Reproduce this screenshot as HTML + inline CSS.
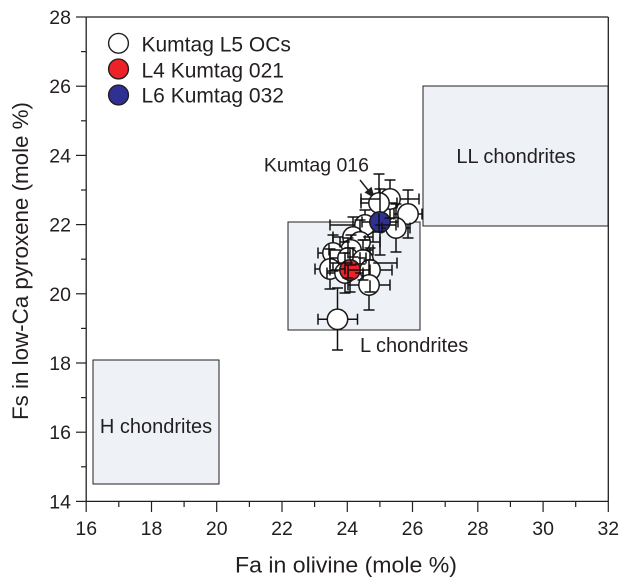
<!DOCTYPE html>
<html>
<head>
<meta charset="utf-8">
<style>
  html, body { margin:0; padding:0; background:#fff; }
  svg { display:block; }
  text { font-family: "Liberation Sans", Arial, sans-serif; fill:#231f20; }
</style>
</head>
<body>
<svg width="624" height="581" viewBox="0 0 624 581" xmlns="http://www.w3.org/2000/svg">
  <rect x="0" y="0" width="624" height="581" fill="#fff"/>

  <!-- classification boxes -->
  <rect x="93" y="360" width="126" height="124" fill="#eef2f7" stroke="#231f20" stroke-width="1"/>
  <rect x="288" y="222" width="132" height="108" fill="#eef2f7" stroke="#231f20" stroke-width="1"/>
  <rect x="423" y="86" width="185" height="140" fill="#eef2f7" stroke="#231f20" stroke-width="1"/>

  <text x="156" y="433" font-size="20" text-anchor="middle">H chondrites</text>
  <text x="360" y="352" font-size="20">L chondrites</text>
  <text x="516" y="163" font-size="20" text-anchor="middle">LL chondrites</text>

  <!-- frame -->
  <g stroke="#231f20" stroke-width="1.3" fill="none">
    <line x1="86.2" y1="17" x2="86.2" y2="501.4"/>
    <line x1="86.2" y1="501.4" x2="608.3" y2="501.4"/>
    <line x1="86.2" y1="17" x2="608.3" y2="17"/>
    <line x1="608.3" y1="17" x2="608.3" y2="501.4"/>
  </g>

  <!-- y ticks -->
  <g stroke="#231f20" stroke-width="1.2">
    <line x1="76" y1="17" x2="86.2" y2="17"/>
    <line x1="81" y1="51.6" x2="86.2" y2="51.6"/>
    <line x1="76" y1="86.2" x2="86.2" y2="86.2"/>
    <line x1="81" y1="120.8" x2="86.2" y2="120.8"/>
    <line x1="76" y1="155.4" x2="86.2" y2="155.4"/>
    <line x1="81" y1="190" x2="86.2" y2="190"/>
    <line x1="76" y1="224.6" x2="86.2" y2="224.6"/>
    <line x1="81" y1="259.2" x2="86.2" y2="259.2"/>
    <line x1="76" y1="293.8" x2="86.2" y2="293.8"/>
    <line x1="81" y1="328.4" x2="86.2" y2="328.4"/>
    <line x1="76" y1="363" x2="86.2" y2="363"/>
    <line x1="81" y1="397.6" x2="86.2" y2="397.6"/>
    <line x1="76" y1="432.2" x2="86.2" y2="432.2"/>
    <line x1="81" y1="466.8" x2="86.2" y2="466.8"/>
    <line x1="76" y1="501.4" x2="86.2" y2="501.4"/>
  </g>
  <g font-size="19.5" text-anchor="end">
    <text x="71" y="24">28</text>
    <text x="71" y="93.2">26</text>
    <text x="71" y="162.4">24</text>
    <text x="71" y="231.6">22</text>
    <text x="71" y="300.8">20</text>
    <text x="71" y="370">18</text>
    <text x="71" y="439.2">16</text>
    <text x="71" y="508.4">14</text>
  </g>

  <!-- x ticks -->
  <g stroke="#231f20" stroke-width="1.2">
    <line x1="86.2" y1="501.4" x2="86.2" y2="512"/>
    <line x1="118.8" y1="501.4" x2="118.8" y2="507"/>
    <line x1="151.5" y1="501.4" x2="151.5" y2="512"/>
    <line x1="184.1" y1="501.4" x2="184.1" y2="507"/>
    <line x1="216.7" y1="501.4" x2="216.7" y2="512"/>
    <line x1="249.4" y1="501.4" x2="249.4" y2="507"/>
    <line x1="282" y1="501.4" x2="282" y2="512"/>
    <line x1="314.6" y1="501.4" x2="314.6" y2="507"/>
    <line x1="347.3" y1="501.4" x2="347.3" y2="512"/>
    <line x1="379.9" y1="501.4" x2="379.9" y2="507"/>
    <line x1="412.5" y1="501.4" x2="412.5" y2="512"/>
    <line x1="445.2" y1="501.4" x2="445.2" y2="507"/>
    <line x1="477.8" y1="501.4" x2="477.8" y2="512"/>
    <line x1="510.4" y1="501.4" x2="510.4" y2="507"/>
    <line x1="543.1" y1="501.4" x2="543.1" y2="512"/>
    <line x1="575.7" y1="501.4" x2="575.7" y2="507"/>
    <line x1="608.3" y1="501.4" x2="608.3" y2="512"/>
  </g>
  <g font-size="19.5" text-anchor="middle">
    <text x="86.2" y="535">16</text>
    <text x="151.5" y="535">18</text>
    <text x="216.7" y="535">20</text>
    <text x="282" y="535">22</text>
    <text x="347.3" y="535">24</text>
    <text x="412.5" y="535">26</text>
    <text x="477.8" y="535">28</text>
    <text x="543.1" y="535">30</text>
    <text x="608.3" y="535">32</text>
  </g>

  <!-- axis titles -->
  <text x="346" y="572.5" font-size="22.5" text-anchor="middle" textLength="222" lengthAdjust="spacingAndGlyphs">Fa in olivine (mole %)</text>
  <text transform="translate(28,261) rotate(-90)" x="0" y="0" font-size="22.5" text-anchor="middle" textLength="318" lengthAdjust="spacingAndGlyphs">Fs in low-Ca pyroxene (mole %)</text>

  <!-- legend -->
  <g stroke="#231f20" stroke-width="1.4">
    <circle cx="118.5" cy="43.3" r="9.9" fill="#fff"/>
    <circle cx="118.5" cy="69" r="9.9" fill="#ed2228"/>
    <circle cx="118.5" cy="95" r="9.9" fill="#2e3192"/>
  </g>
  <g font-size="21">
    <text x="141.5" y="51.7">Kumtag L5 OCs</text>
    <text x="141.5" y="77.3">L4 Kumtag 021</text>
    <text x="141.5" y="102.7">L6 Kumtag 032</text>
  </g>

  <!-- Kumtag 016 label + arrow -->
  <text x="369" y="171.7" font-size="19.5" text-anchor="end">Kumtag 016</text>
  <line x1="360" y1="180" x2="370" y2="192.5" stroke="#231f20" stroke-width="1.5"/>
  <polygon points="375,198.5 364.5,192.5 371.5,186.8" fill="#231f20"/>

  <!-- data circles -->
  <g stroke="#1a1a1a" stroke-width="1.5" fill="#fff">
    <circle cx="390" cy="199" r="10.2"/>
    <circle cx="408" cy="214" r="10.2"/>
    <circle cx="396" cy="228" r="10.2"/>
    <circle cx="379" cy="203" r="10.2"/>
    <circle cx="365" cy="225" r="10.2"/>
    <circle cx="353" cy="237" r="10.2"/>
    <circle cx="360" cy="242" r="10.2"/>
    <circle cx="351" cy="250" r="10.2"/>
    <circle cx="333" cy="253" r="10.2"/>
    <circle cx="348" cy="258" r="10.2"/>
    <circle cx="363" cy="260" r="10.2"/>
    <circle cx="330" cy="269" r="10.2"/>
    <circle cx="370" cy="270" r="10.2"/>
    <circle cx="345" cy="273" r="10.2"/>
    <circle cx="369" cy="285" r="10.2"/>
    <circle cx="337.5" cy="319.3" r="10.2"/>
    <circle cx="350" cy="270" r="10.2" fill="#ed2228"/>
    <circle cx="380" cy="222" r="10.2" fill="#2e3192"/>
  </g>

  <!-- error bars -->
  <g stroke="#111" stroke-width="1.5" fill="none">
    <path d="M368.8 203H361M361 197.5v11 M389.2 203H397M397 197.5v11 M379 192.8V174M373.5 174h11 M379 213.2V232M373.5 232h11"/>
    <path d="M379.8 199H361M361 193.5v11 M400.2 199H419M419 193.5v11 M390 188.8V180M384.5 180h11 M390 209.2V218M384.5 218h11"/>
    <path d="M397.8 214H394M394 208.5v11 M418.2 214H422M422 208.5v11 M408 203.8V190M402.5 190h11 M408 224.2V238M402.5 238h11"/>
    <path d="M385.8 228H382M382 222.5v11 M406.2 228H410M410 222.5v11 M396 217.8V204M390.5 204h11 M396 238.2V252M390.5 252h11"/>
    <path d="M354.8 225H330M330 219.5v11 M375.2 225H396M396 219.5v11 M365 214.8V210M359.5 210h11 M365 235.2V240M359.5 240h11"/>
    <path d="M369.8 222H362M362 216.5v11 M390.2 222H398M398 216.5v11 M380 211.8V189M374.5 189h11 M380 232.2V255M374.5 255h11"/>
    <path d="M342.8 237H333M333 231.5v11 M363.2 237H373M373 231.5v11 M353 226.8V217M347.5 217h11 M353 247.2V257M347.5 257h11"/>
    <path d="M349.8 242H340M340 236.5v11 M370.2 242H380M380 236.5v11 M360 231.8V220M354.5 220h11 M360 252.2V264M354.5 264h11"/>
    <path d="M340.8 250H329M329 244.5v11 M361.2 250H373M373 244.5v11 M351 239.8V235M345.5 235h11 M351 260.2V265M345.5 265h11"/>
    <path d="M322.8 253H318M318 247.5v11 M343.2 253H348M348 247.5v11 M333 242.8V235M327.5 235h11 M333 263.2V271M327.5 271h11"/>
    <path d="M337.8 258H330M330 252.5v11 M358.2 258H366M366 252.5v11 M348 247.8V238M342.5 238h11 M348 268.2V278M342.5 278h11"/>
    <path d="M352.8 263H330M330 257.5v11 M373.2 263H397M397 257.5v11 M363 249.8V240M357.5 240h11 M363 270.2V280M357.5 280h11"/>
    <path d="M319.8 269H315M315 263.5v11 M340.2 269H345M345 263.5v11 M330 258.8V249M324.5 249h11 M330 279.2V289M324.5 289h11"/>
    <path d="M359.8 270H348M348 264.5v11 M380.2 270H392M392 264.5v11 M370 259.8V248M364.5 248h11 M370 280.2V292M364.5 292h11"/>
    <path d="M334.8 273H327M327 267.5v11 M355.2 273H363M363 267.5v11 M345 262.8V253M339.5 253h11 M345 283.2V293M339.5 293h11"/>
    <path d="M339.8 270H330M330 264.5v11 M360.2 270H370M370 264.5v11 M350 259.8V248M344.5 248h11 M350 280.2V292M344.5 292h11"/>
    <path d="M358.8 285H348M348 279.5v11 M379.2 285H390M390 279.5v11 M369 274.8V260M363.5 260h11 M369 295.2V310M363.5 310h11"/>
    <path d="M327.3 319.3H318M318 313.8v11 M347.7 319.3H357.5M357.5 313.8v11 M337.5 309.1V288M332 288h11 M337.5 329.5V350M332 350h11"/>
  </g>
</svg>
</body>
</html>
